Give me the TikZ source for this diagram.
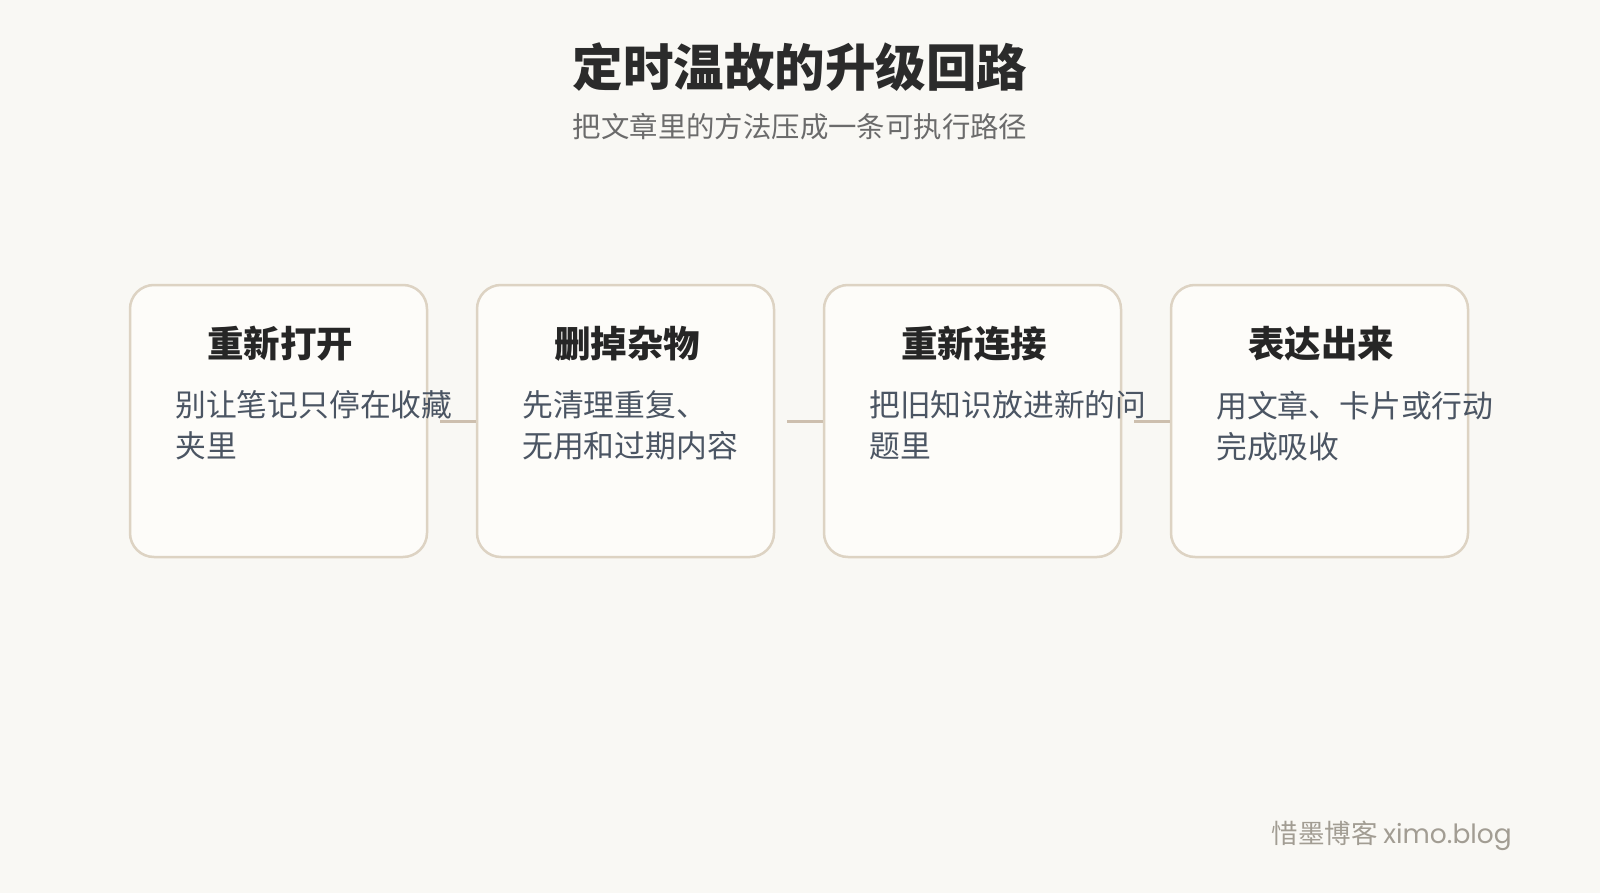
\documentclass[tikz,border=0pt]{standalone}
\usepackage{fontspec}
\setmainfont{Noto Sans CJK SC}
\newfontfamily\latinmark{Poppins}
\definecolor{bgc}{HTML}{F9F8F4}
\definecolor{boxfill}{HTML}{FDFCF9}
\definecolor{boxline}{HTML}{DDD3C3}
\definecolor{conn}{HTML}{CDBFAE}
\definecolor{titlec}{HTML}{2B2B2B}
\definecolor{headc}{HTML}{262626}
\definecolor{bodyc}{HTML}{4B5563}
\definecolor{subc}{HTML}{6B6B6B}
\definecolor{markc}{HTML}{A29D93}
\tikzset{
  stepbox/.style={draw=boxline, fill=boxfill, line width=2.5pt, rounded corners=24pt,
    minimum width=297pt, minimum height=272pt, inner sep=0pt},
  headtext/.style={text=headc, inner sep=0pt, font=\fontsize{36.5}{42}\selectfont\bfseries},
  bodytext/.style={text=bodyc, inner sep=0pt, align=left, anchor=north west,
    font=\fontsize{30.8}{41}\selectfont},
  connline/.style={draw=conn, line width=3pt}
}
\begin{document}
\begin{tikzpicture}[x=1pt,y=-1pt]
\fill[bgc] (0,0) rectangle (1600,893);
\node[text=titlec, inner sep=0pt, font=\fontsize{50.5}{60}\selectfont\bfseries] (title) at (800,67) {定时温故的升级回路};
\node[text=subc, inner sep=0pt, font=\fontsize{28.4}{34}\selectfont] (subtitle) at (800,127) {把文章里的方法压成一条可执行路径};

\node[stepbox] (b1) at (278.5,421) {};
\node[stepbox] (b2) at (625.5,421) {};
\node[stepbox] (b3) at (972.5,421) {};
\node[stepbox] (b4) at (1319.5,421) {};

\draw[connline] ([xshift=12pt]b1.east) -- (b2.west);
\draw[connline] ([xshift=12pt]b2.east) -- (b3.west);
\draw[connline] ([xshift=12pt]b3.east) -- (b4.west);

\node[headtext] (h1) at (280,344) {重新打开};
\node[headtext] (h2) at (627,344) {删掉杂物};
\node[headtext] (h3) at (974,344) {重新连接};
\node[headtext] (h4) at (1321,344) {表达出来};

\node[bodytext] (t1) at (175,390.5) {别让笔记只停在收藏\\夹里};
\node[bodytext] (t2) at (522,390.5) {先清理重复、\\无用和过期内容};
\node[bodytext] (t3) at (869,390.5) {把旧知识放进新的问\\题里};
\node[bodytext] (t4) at (1216,390.5) {用文章、卡片或行动\\完成吸收};

\node[text=markc, inner sep=0pt, anchor=east, font=\fontsize{26.5}{30}\selectfont] (mark) at (1512,836) {惜墨博客 {\latinmark ximo.blog}};
\end{tikzpicture}
\end{document}
